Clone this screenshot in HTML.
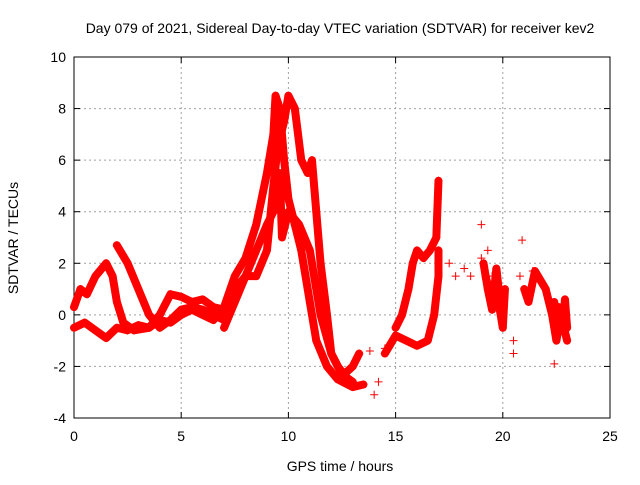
<!DOCTYPE html>
<html><head><meta charset="utf-8"><style>
body{margin:0;background:#fff;font-family:"Liberation Sans",sans-serif}
svg text{font-family:"Liberation Sans",sans-serif;font-size:14px;fill:#000}
</style></head><body>
<svg id="chart" width="640" height="480">
<rect width="640" height="480" fill="#fff"/>
<text x="340" y="33" text-anchor="middle">Day 079 of 2021, Sidereal Day-to-day VTEC variation (SDTVAR) for receiver kev2</text>
<g id="grid"></g><g id="axes"></g><g id="marks"></g>
<text x="340" y="471" text-anchor="middle">GPS time / hours</text>
<text transform="translate(18,238) rotate(-90)" text-anchor="middle">SDTVAR / TECUs</text>
</svg>
<script>
const xTicks=[0,5,10,15,20,25];
const yTicks=[-4,-2,0,2,4,6,8,10];
const trace1=[[0,0.3],[0.3,1],[0.6,0.8],[1,1.5],[1.5,2],[1.8,1.5],[2,0.5],[2.3,-0.3],[2.8,-0.6],[3.5,-0.5],[4,0],[4.5,0.8],[5,0.7],[5.5,0.5],[6,0.6],[6.5,0.3],[7,0.2]];
const trace2=[[0,-0.5],[0.5,-0.3],[1,-0.6],[1.5,-0.9],[2,-0.5],[2.5,-0.6],[3,-0.4],[3.5,-0.5],[4,-0.2],[4.5,-0.3],[5,0],[5.5,0.2],[6,0],[6.5,-0.2],[7,0.3],[7.5,1.5],[8,2.2],[8.5,3.5],[9,5.5],[9.3,7],[9.4,8.5],[9.6,8],[9.8,6],[10,4.5],[10.3,3.5],[10.6,2.5],[11,0.5],[11.3,-1],[11.8,-2],[12.3,-2.5],[13,-2.8],[13.5,-2.7]];
const trace3=[[2,2.7],[2.5,2],[3,1],[3.5,0],[4,-0.5],[4.5,-0.2],[5,0.2],[5.5,0.3],[6,0.2],[7,-0.2],[7.2,0.5],[7.5,1],[8,1.5],[8.5,1.5],[9,2.5],[9.3,5],[9.5,6.5],[9.8,7.5],[10,8.5],[10.3,8],[10.6,6],[10.9,5.5],[11.1,6],[11.3,4],[11.5,2],[11.8,0],[12,-1.5],[12.3,-2],[12.6,-2.3],[13,-2],[13.3,-1.5]];
const trace4=[[7,-0.5],[7.5,0.5],[8,1.5],[8.5,2.5],[9,3.5],[9.3,4],[9.6,5.5],[9.7,3],[10,4],[10.5,3.5],[11,2.5],[11.5,0],[12,-1.5],[12.5,-2.3],[13,-2.6]];
const trace5=[[14.5,-1.5],[15,-0.8],[15.5,-1],[16,-1.2],[16.5,-1],[16.8,0],[17,1.5],[17,2.5]];
const trace6=[[15,-0.5],[15.3,0],[15.6,1],[15.8,2],[16,2.5],[16.3,2.2],[16.6,2.5],[16.9,3],[17,5.2]];
const trace7=[[19.2,1.5],[19.4,0.8],[19.6,1.2],[19.8,0.5],[20,-0.5],[20.1,1]];
const trace7b=[[19.1,2],[19.3,1],[19.5,0.2],[19.7,1.8],[19.9,0.3],[20,-0.3]];
const trace8=[[21,1],[21.2,0.5],[21.5,1.7],[22,1],[22.3,0],[22.5,-1],[22.7,0],[23,-1]];
const trace8b=[[22.4,0.5],[22.5,-0.5],[22.6,0.3],[22.8,-0.3],[22.9,0.6],[23,-0.5]];
const scatter=[[13.8,-1.4],[14,-3.1],[14.2,-2.6],[14.5,-1.3],[17.5,2],[17.8,1.5],[18.2,1.8],[18.5,1.5],[19,3.5],[19,2.2],[19.3,2.5],[19.5,1.5],[20.5,-1],[20.5,-1.5],[20.9,2.9],[20.8,1.5],[22.4,-1.9],[21.4,1.7]];
const traces=[trace1,trace2,trace3,trace4,trace5,trace6,trace7,trace7b,trace8,trace8b];
const X0=74,X1=610,Y0=418,Y1=57;
const xs=v=>X0+(v-0)/25*(X1-X0);
const ys=v=>Y0-(v+4)/14*(Y0-Y1);
const NS="http://www.w3.org/2000/svg";
const mk=(t,a,p)=>{const e=document.createElementNS(NS,t);for(const k in a)e.setAttribute(k,a[k]);p.appendChild(e);return e;};
const grid=document.getElementById('grid'),axes=document.getElementById('axes'),marks=document.getElementById('marks');
xTicks.forEach(t=>{const x=xs(t);
 if(t>0&&t<25){const l=mk('line',{x1:x,x2:x,y1:Y1,y2:Y0,stroke:'#a0a0a0','stroke-dasharray':'2,3'},grid);}
 mk('line',{x1:x,x2:x,y1:Y0,y2:Y0-6,stroke:'#000'},axes);mk('line',{x1:x,x2:x,y1:Y1,y2:Y1+6,stroke:'#000'},axes);
 const tx=mk('text',{x:x,y:Y0+23,'text-anchor':'middle'},axes);tx.textContent=t;
 });
yTicks.forEach(t=>{const y=ys(t);
 if(t>-4&&t<10){const l=mk('line',{x1:X0,x2:X1,y1:y,y2:y,stroke:'#a0a0a0','stroke-dasharray':'2,3'},grid);}
 mk('line',{x1:X0,x2:X0+6,y1:y,y2:y,stroke:'#000'},axes);mk('line',{x1:X1,x2:X1-6,y1:y,y2:y,stroke:'#000'},axes);
 const tx=mk('text',{x:X0-8,y:y+5,'text-anchor':'end'},axes);tx.textContent=t;
 });
const fr=mk('rect',{x:X0,y:Y1,width:X1-X0,height:Y0-Y1,fill:'none',stroke:'#000'},axes);

const plus=(x,y)=>{const p=mk('path',{d:`M${x-4},${y}h8M${x},${y-4}v8`,stroke:'#f00','stroke-width':1},marks);
 };
traces.forEach(tr=>{
 const pl=mk('polyline',{points:tr.map(d=>xs(d[0])+','+ys(d[1])).join(' '),fill:'none',stroke:'#f00','stroke-width':8,'stroke-linejoin':'round','stroke-linecap':'round'},marks);
 
 tr.forEach(d=>plus(xs(d[0]),ys(d[1])));});
scatter.forEach(d=>plus(xs(d[0]),ys(d[1])));
</script>
</body></html>
